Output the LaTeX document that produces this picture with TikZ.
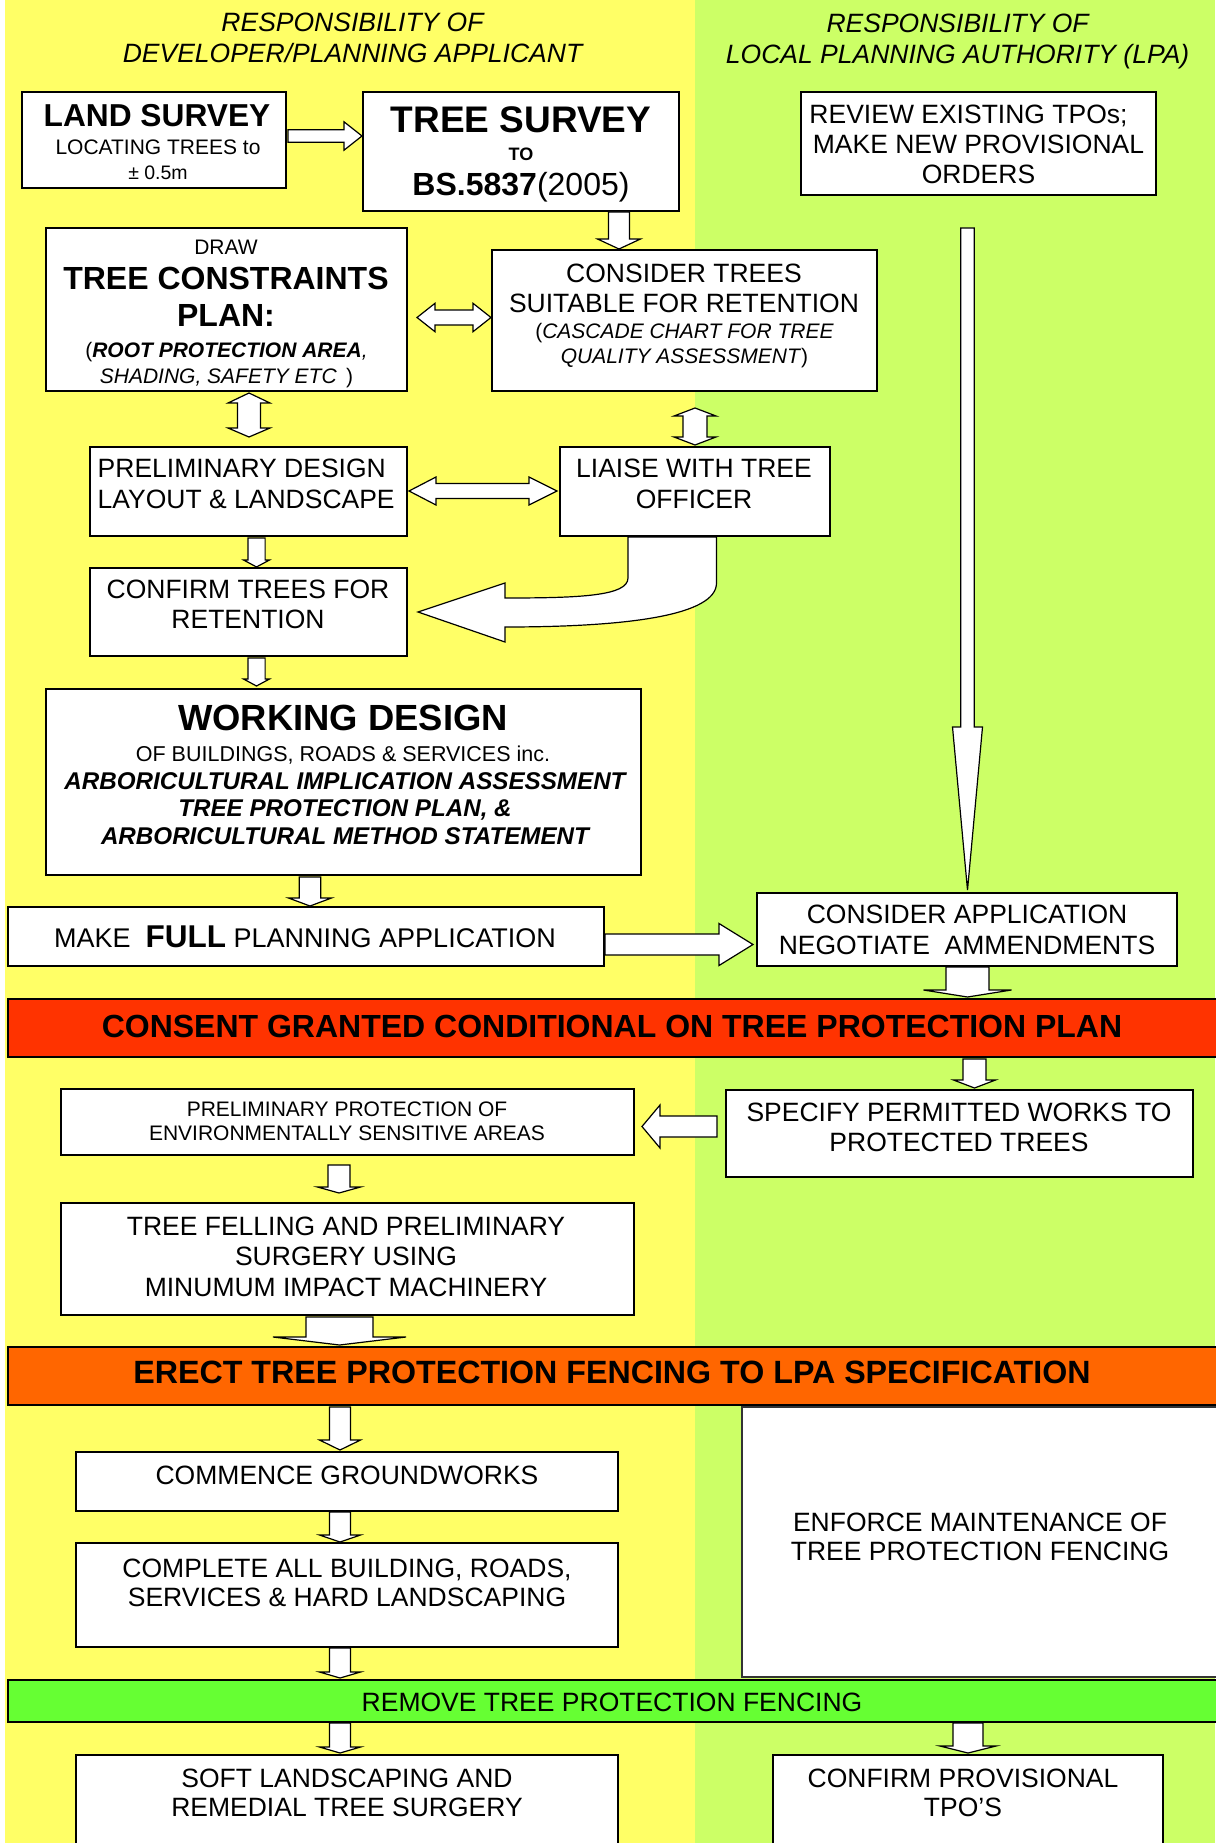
\documentclass[tikz,border=0pt]{standalone}
\usepackage{fontspec}
\setmainfont{Liberation Sans}
\newcommand\fz[2]{\fontsize{#1}{#2}\selectfont}
% block arrows
\newcommand\blkdown[6]{% x, ytail, yheadback, ytip, halfshaft, halfhead
  \draw[blk] ({#1-#5},#2) -- ({#1+#5},#2) -- ({#1+#5},#3) -- ({#1+#6},#3) -- (#1,#4) -- ({#1-#6},#3) -- ({#1-#5},#3) -- cycle;}
\newcommand\blkhoriz[6]{% y, xtail, xheadback, xtip, halfshaft, halfhead
  \draw[blk] (#2,{#1-#5}) -- (#3,{#1-#5}) -- (#3,{#1-#6}) -- (#4,#1) -- (#3,{#1+#6}) -- (#3,{#1+#5}) -- (#2,{#1+#5}) -- cycle;}
\newcommand\blkdh[7]{% y, xl tip, xl back, xr back, xr tip, halfshaft, halfhead
  \draw[blk] (#2,#1) -- (#3,{#1-#7}) -- (#3,{#1-#6}) -- (#4,{#1-#6}) -- (#4,{#1-#7}) -- (#5,#1) -- (#4,{#1+#7}) -- (#4,{#1+#6}) -- (#3,{#1+#6}) -- (#3,{#1+#7}) -- cycle;}
\newcommand\blkdv[7]{% x, yt tip, yt back, yb back, yb tip, halfshaft, halfhead
  \draw[blk] (#1,#2) -- ({#1+#7},#3) -- ({#1+#6},#3) -- ({#1+#6},#4) -- ({#1+#7},#4) -- (#1,#5) -- ({#1-#7},#4) -- ({#1-#6},#4) -- ({#1-#6},#3) -- ({#1-#7},#3) -- cycle;}
\definecolor{ylw}{HTML}{FFFF66}
\definecolor{grn}{HTML}{CCFF66}
\definecolor{redb}{HTML}{FF3300}
\definecolor{orgb}{HTML}{FF6600}
\definecolor{grnb}{HTML}{66FF33}
\begin{document}
\begin{tikzpicture}[x=1pt,y=-1pt,
  box/.style={draw=black, line width=1.8pt, fill=white, inner sep=0pt},
  txt/.style={inner sep=0pt, align=center, text=black},
  blk/.style={draw=black, line width=1.2pt, fill=white, line join=miter},
  banner/.style={draw=black, line width=1.8pt, inner sep=0pt}]
\useasboundingbox (0,0) rectangle (1215,1843);
% backgrounds
\fill[white] (0,0) rectangle (1215,1843);
\fill[ylw] (5,0) rectangle (695,1843);
\fill[grn] (695,0) rectangle (1215,1843);

% headers
\node[txt, font=\fz{26.5}{31}\itshape] (hdrL) at (352.5,37.5) {RESPONSIBILITY OF\\DEVELOPER/PLANNING APPLICANT};
\node[txt, font=\fz{26.5}{31}\itshape] (hdrR) at (957.6,41) {RESPONSIBILITY OF\\LOCAL PLANNING AUTHORITY (LPA)};

% boxes
\node[box, minimum width=264pt, minimum height=96pt] (land) at (154,140) {};
\node[box, minimum width=316pt, minimum height=119pt] (tsurv) at (521,151.5) {};
\node[box, minimum width=355pt, minimum height=103pt] (review) at (978.5,143.5) {};
\node[box, minimum width=361pt, minimum height=163pt] (tcp) at (226.5,309.5) {};
\node[box, minimum width=385pt, minimum height=141pt] (consid) at (684.5,320.5) {};
\node[box, minimum width=317pt, minimum height=89pt] (prelim) at (248.5,491.5) {};
\node[box, minimum width=270pt, minimum height=89pt] (liaise) at (695,491.5) {};
\node[box, minimum width=317pt, minimum height=88pt] (confirm) at (248.5,612) {};
\node[box, minimum width=595pt, minimum height=186pt] (working) at (343.5,782) {};
\node[box, minimum width=596pt, minimum height=59pt] (makefull) at (306,936.5) {};
\node[box, minimum width=420pt, minimum height=73pt] (conapp) at (967,929.5) {};
\node[banner, fill=redb, minimum width=1212pt, minimum height=58pt] (consent) at (614,1028) {};
\node[box, minimum width=467pt, minimum height=87pt] (specify) at (959.5,1133.5) {};
\node[box, minimum width=573pt, minimum height=66pt] (prelprot) at (347.5,1122) {};
\node[box, minimum width=573pt, minimum height=112pt] (felling) at (347.5,1259) {};
\node[banner, fill=orgb, minimum width=1212pt, minimum height=58pt] (erect) at (614,1376) {};
\node[box, minimum width=542pt, minimum height=59pt] (commence) at (347,1481.5) {};
\node[box, minimum width=542pt, minimum height=104pt] (complete) at (347,1595) {};
\node[box, draw=black!80, line width=1.3pt, minimum width=476pt, minimum height=270pt] (enforce) at (980,1542) {};
\node[banner, fill=grnb, minimum width=1212pt, minimum height=42pt] (remove) at (614,1701) {};
\node[box, minimum width=542pt, minimum height=110pt] (soft) at (347,1810) {};
\node[box, minimum width=390pt, minimum height=110pt] (confprov) at (968,1810) {};

% texts
\node[txt, font=\fz{31.7}{34}\bfseries] (land-t1) at (157,116) {LAND SURVEY};
\node[txt, font=\fz{21}{24}] (land-t2) at (158,147) {LOCATING TREES to};
\node[txt, font=\fz{19.5}{24}] (land-t3) at (158,173) {± 0.5m};

\node[txt, font=\fz{37}{40}\bfseries] (tsurv-t1) at (521,120) {TREE SURVEY};
\node[txt, font=\fz{18}{20}\bfseries] (tsurv-t2) at (521,154) {TO};
\node[txt, font=\fz{32}{36}] (tsurv-t3) at (521,187) {\textbf{BS.5837}(2005)};

\node[txt, font=\fz{26.5}{30}] (review-t) at (978.5,144) {REVIEW EXISTING TPOs;\hspace*{20pt}\\MAKE NEW PROVISIONAL\\ORDERS};

\node[txt, font=\fz{21}{24}] (tcp-t1) at (226,247) {DRAW};
\node[txt, font=\fz{32}{37}\bfseries] (tcp-t2) at (226,296.5) {TREE CONSTRAINTS\\PLAN:};
\node[txt, font=\fz{21}{26}] (tcp-t3) at (226.5,365) {(\textbf{\textit{ROOT PROTECTION AREA}}\textit{,}\\\textit{SHADING, SAFETY ETC }\,)};

\node[txt, font=\fz{26.5}{30}] (consid-t1) at (684,288) {CONSIDER TREES\\SUITABLE FOR RETENTION};
\node[txt, font=\fz{21}{25}] (consid-t2) at (684.5,346) {(\textit{CASCADE CHART FOR TREE}\\\textit{QUALITY ASSESSMENT})};

\node[txt, font=\fz{26.5}{31}, align=left, anchor=west] (prelim-t) at (97.5,484) {PRELIMINARY DESIGN\\LAYOUT \& LANDSCAPE};
\node[txt, font=\fz{26.5}{31}] (liaise-t) at (694,484) {LIAISE WITH TREE\\OFFICER};
\node[txt, font=\fz{26.5}{30}] (confirm-t) at (248,604) {CONFIRM TREES FOR\\RETENTION};

\node[txt, font=\fz{36.4}{40}\bfseries] (working-t1) at (343,718) {WORKING DESIGN};
\node[txt, font=\fz{21.5}{25}] (working-t2) at (343,755.5) {OF BUILDINGS, ROADS \& SERVICES inc.};
\node[txt, font=\fz{24.2}{27.5}\bfseries\itshape] (working-t3) at (345,808.5) {ARBORICULTURAL IMPLICATION ASSESSMENT\\TREE PROTECTION PLAN, \&\\ARBORICULTURAL METHOD STATEMENT};

\node[txt, font=\fz{27}{30}] (makefull-t) at (305,936.5) {MAKE\ \ {\fz{31.5}{34}\bfseries FULL} PLANNING APPLICATION};
\node[txt, font=\fz{26.5}{31}] (conapp-t) at (967,929.5) {CONSIDER APPLICATION\\NEGOTIATE\ \ AMMENDMENTS};
\node[txt, font=\fz{32}{34}\bfseries] (consent-t) at (612,1026) {CONSENT GRANTED CONDITIONAL ON TREE PROTECTION PLAN};
\node[txt, font=\fz{26.5}{30}] (specify-t) at (959,1127) {SPECIFY PERMITTED WORKS TO\\PROTECTED TREES};
\node[txt, font=\fz{21}{24}] (prelprot-t) at (347,1121) {PRELIMINARY PROTECTION OF\\ENVIRONMENTALLY SENSITIVE AREAS};
\node[txt, font=\fz{26.5}{30.5}] (felling-t) at (346,1256.5) {TREE FELLING AND PRELIMINARY\\SURGERY USING\\MINUMUM IMPACT MACHINERY};
\node[txt, font=\fz{32.2}{34}\bfseries] (erect-t) at (612,1372) {ERECT TREE PROTECTION FENCING TO LPA SPECIFICATION};
\node[txt, font=\fz{26.5}{30}] (commence-t) at (347,1475) {COMMENCE GROUNDWORKS};
\node[txt, font=\fz{26.5}{29}] (complete-t) at (347,1582.5) {COMPLETE ALL BUILDING, ROADS,\\SERVICES \& HARD LANDSCAPING};
\node[txt, font=\fz{26.5}{29.5}] (enforce-t) at (980,1537) {ENFORCE MAINTENANCE OF\\TREE PROTECTION FENCING};
\node[txt, font=\fz{26.5}{30}] (remove-t) at (612,1702) {REMOVE TREE PROTECTION FENCING};
\node[txt, font=\fz{26.5}{29}] (soft-t) at (347,1792.5) {SOFT LANDSCAPING AND\\REMEDIAL TREE SURGERY};
\node[txt, font=\fz{26.5}{29}] (confprov-t) at (963,1792.5) {CONFIRM PROVISIONAL\\TPO’S};

% connectors (block arrows)
\blkhoriz{136}{288}{344}{362}{6.2}{14.2}          % land -> tsurv
\blkdown{619}{212}{239}{249}{10.5}{21.5}          % tsurv -> consid
\blkdh{317.5}{417}{435}{473}{491}{7.5}{14.2}      % tcp <-> consid
\blkdv{249}{393}{403}{428}{437}{11.5}{21}         % tcp <-> prelim
\blkdv{695}{408}{416}{437}{445}{12}{21}           % consid <-> liaise
\blkdh{491}{409}{436}{529}{557}{7.5}{14}          % prelim <-> liaise
\blkdown{256.5}{538}{560}{567}{8.6}{13}           % prelim -> confirm
\blkdown{256.5}{658}{679}{686}{8.6}{13}           % confirm -> working
\blkdown{310}{877}{898}{906}{10.7}{21.5}          % working -> makefull
\blkhoriz{944.5}{605}{719}{753}{10.5}{21}         % makefull -> conapp
\blkdown{967.5}{228}{727}{890}{6.7}{15}           % review -> conapp
\blkdown{967.5}{967}{990}{997}{21.5}{44}          % conapp -> consent
\blkdown{974.5}{1059}{1080}{1088}{11.5}{21}       % consent -> specify
\blkhoriz{1126.5}{717}{660}{642}{10.5}{21.5}      % specify -> prelprot
\blkdown{339}{1165}{1187}{1193}{11}{21.5}         % prelprot -> felling
\blkdown{339.5}{1317}{1337}{1345}{33.5}{66.5}     % felling -> erect
\blkdown{340}{1407}{1440}{1450}{10.5}{20.5}       % erect -> commence
\blkdown{340}{1512}{1535}{1542}{10.5}{20.5}       % commence -> complete
\blkdown{340}{1648}{1672}{1678}{10.5}{20.5}       % complete -> remove
\blkdown{340}{1723}{1747}{1753}{10.5}{20.5}       % remove -> soft
\blkdown{968}{1723}{1746}{1753}{15}{28}           % remove -> confprov
% curved arrow liaise -> confirm
\draw[blk] (628,537) -- (716.5,537) -- (716.5,583) .. controls (716.5,615) and (630,627) .. (505,627)
  -- (505,642) -- (418,612) -- (505,583) -- (505,598) .. controls (580,598) and (628,596) .. (628,578) -- cycle;
\end{tikzpicture}
\end{document}
